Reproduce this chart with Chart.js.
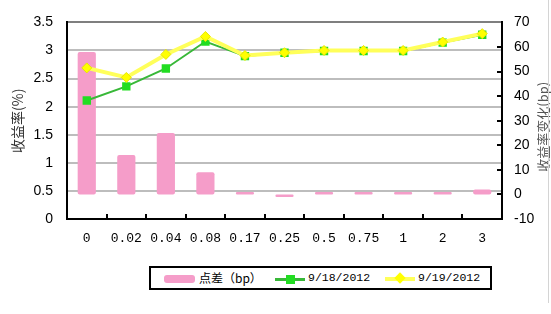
<!DOCTYPE html>
<html>
<head>
<meta charset="utf-8">
<script src="https://cdn.jsdelivr.net/npm/chart.js@4"></script>
<style>
  html, body { margin: 0; padding: 0; background: #fff; }
  #wrap { position: relative; width: 551px; height: 314px; overflow: hidden; }
  #edge { position: absolute; left: 548px; top: 0; width: 1px; height: 303px; background: #d4d4d4; }
  #legend {
    position: absolute; left: 149px; top: 266px; width: 343px; height: 24px;
    border: 2px solid #000; box-sizing: border-box; background: #fff;
  }
  #legend .it { position: absolute; }
  #legend .txt { top: 2px; font-size: 12px; line-height: 16px; color: #000; white-space: nowrap; }
  .cjk { font-family: "Noto Sans CJK SC", sans-serif; }
  .mono { font-family: "Liberation Mono", monospace; font-size: 11.5px !important; }
</style>
</head>
<body>
<div id="wrap">
  <canvas id="chart" width="551" height="314"></canvas>
  <div id="edge"></div>
  <div id="legend"></div>
</div>
<script>
// ── Data ──
const TERMS = ["0", "0.02", "0.04", "0.08", "0.17", "0.25", "0.5", "0.75", "1", "2", "3"];
const YIELD_0918 = [2.11, 2.36, 2.68, 3.16, 2.90, 2.96, 2.99, 2.99, 2.99, 3.14, 3.28];
const YIELD_0919 = [2.69, 2.52, 2.93, 3.25, 2.91, 2.96, 3.00, 3.00, 3.00, 3.15, 3.30];
const SPREAD_BP = [58, 16, 25, 9, 1, -1, 1, 1, 1, 1, 2];

const LABEL_SPREAD = "点差（bp）";
const LABEL_0918 = "9/18/2012";
const LABEL_0919 = "9/19/2012";

const PINK = "#f59dc9";
const GREEN_LINE = "#38b838";
const GREEN_PT = "#22dd22";
const YELLOW_LINE = "#ffff5a";
const YELLOW_PT = "#ffff00";

// ── Inside tick marks + right title ──
const decor = {
  id: "decor",
  afterDraw(chart) {
    const { ctx, chartArea: a, scales } = chart;
    ctx.save();
    ctx.strokeStyle = "#000";
    ctx.lineWidth = 2;
    // x axis: marks between categories, pointing up
    const step = (a.right - a.left) / TERMS.length;
    for (let i = 1; i < TERMS.length; i++) {
      const x = Math.round(a.left + step * i);
      ctx.beginPath(); ctx.moveTo(x, a.bottom); ctx.lineTo(x, a.bottom - 5); ctx.stroke();
    }
    // right axis: marks pointing left
    scales.y1.ticks.forEach(t => {
      const y = Math.round(scales.y1.getPixelForValue(t.value));
      if (y <= a.top + 1 || y >= a.bottom - 1) return;
      ctx.beginPath(); ctx.moveTo(a.right, y); ctx.lineTo(a.right - 5, y); ctx.stroke();
    });
    // right title, reads bottom to top
    ctx.translate(543, (a.top + a.bottom) / 2 + 6);
    ctx.rotate(-Math.PI / 2);
    ctx.fillStyle = "#555";
    ctx.font = "13px 'Noto Sans CJK SC'";
    ctx.textAlign = "center";
    ctx.textBaseline = "middle";
    ctx.fillText("收益率变化(bp)", 0, 0);
    ctx.restore();
  }
};

new Chart(document.getElementById("chart"), {
  data: {
    labels: TERMS,
    datasets: [
      {
        type: "line", label: LABEL_0918, data: YIELD_0918, yAxisID: "y", order: 2,
        borderColor: GREEN_LINE, borderWidth: 2, tension: 0,
        pointStyle: "rect", pointRadius: 4.5, pointBackgroundColor: GREEN_PT, pointBorderColor: GREEN_PT
      },
      {
        type: "line", label: LABEL_0919, data: YIELD_0919, yAxisID: "y", order: 1,
        borderColor: YELLOW_LINE, borderWidth: 4, tension: 0,
        pointStyle: "rectRot", pointRadius: 5, pointBackgroundColor: YELLOW_PT, pointBorderColor: "#e6e600", pointBorderWidth: 1
      },
      {
        type: "bar", label: LABEL_SPREAD, data: SPREAD_BP, yAxisID: "y1", order: 3,
        backgroundColor: PINK, borderRadius: 2, borderSkipped: false,
        barPercentage: 0.46, categoryPercentage: 1
      }
    ]
  },
  options: {
    responsive: false,
    animation: false,
    layout: { padding: { top: 19, left: 0, right: 0, bottom: 0 } },
    plugins: { legend: { display: false }, tooltip: { enabled: false } },
    scales: {
      x: {
        grid: { display: false, drawTicks: false },
        border: { color: "#000", width: 2 },
        ticks: { color: "#000", padding: 12, maxRotation: 0, font: { family: "Liberation Mono", size: 13 } },
        afterFit: s => { s.height = 95; }
      },
      y: {
        position: "left", min: 0, max: 3.5,
        grid: {
          drawTicks: false, lineWidth: 2,
          color: c => c.tick && c.tick.value === 3.5 ? "#7f7f7f" : "#bdbdbd"
        },
        border: { color: "#000", width: 2 },
        ticks: {
          stepSize: 0.5, padding: 14, color: "#000",
          font: { family: "Liberation Sans", size: 14 },
          callback: v => String(+v.toFixed(1))
        },
        title: {
          display: true, text: "收益率(%)", color: "#333",
          font: { family: "Noto Sans CJK SC", size: 14 }, padding: { top: 9, bottom: 0 }
        },
        afterFit: s => { s.width = 67; }
      },
      y1: {
        position: "right", min: -10, max: 70,
        grid: { display: false, drawTicks: false },
        border: { color: "#000", width: 2 },
        ticks: {
          stepSize: 10, padding: 12, color: "#000",
          font: { family: "Liberation Sans", size: 14 }
        },
        afterFit: s => { s.width = 49; }
      }
    }
  },
  plugins: [decor]
});

// ── Legend ──
const legend = document.getElementById("legend");
legend.innerHTML = `
  <div class="it" style="left:13px;top:7px;width:31px;height:8px;background:${PINK};border-radius:3px"></div>
  <div class="it txt cjk" style="left:48px">${LABEL_SPREAD}</div>
  <div class="it" style="left:124px;top:10px;width:30px;height:3px;background:${GREEN_LINE}"></div>
  <div class="it" style="left:135px;top:7px;width:9px;height:9px;background:${GREEN_PT}"></div>
  <div class="it txt mono" style="left:157px">${LABEL_0918}</div>
  <div class="it" style="left:234px;top:9px;width:30px;height:4px;background:${YELLOW_LINE}"></div>
  <div class="it" style="left:245px;top:6px;width:8px;height:8px;background:${YELLOW_PT};transform:rotate(45deg)"></div>
  <div class="it txt mono" style="left:267px">${LABEL_0919}</div>
`;
</script>
</body>
</html>
